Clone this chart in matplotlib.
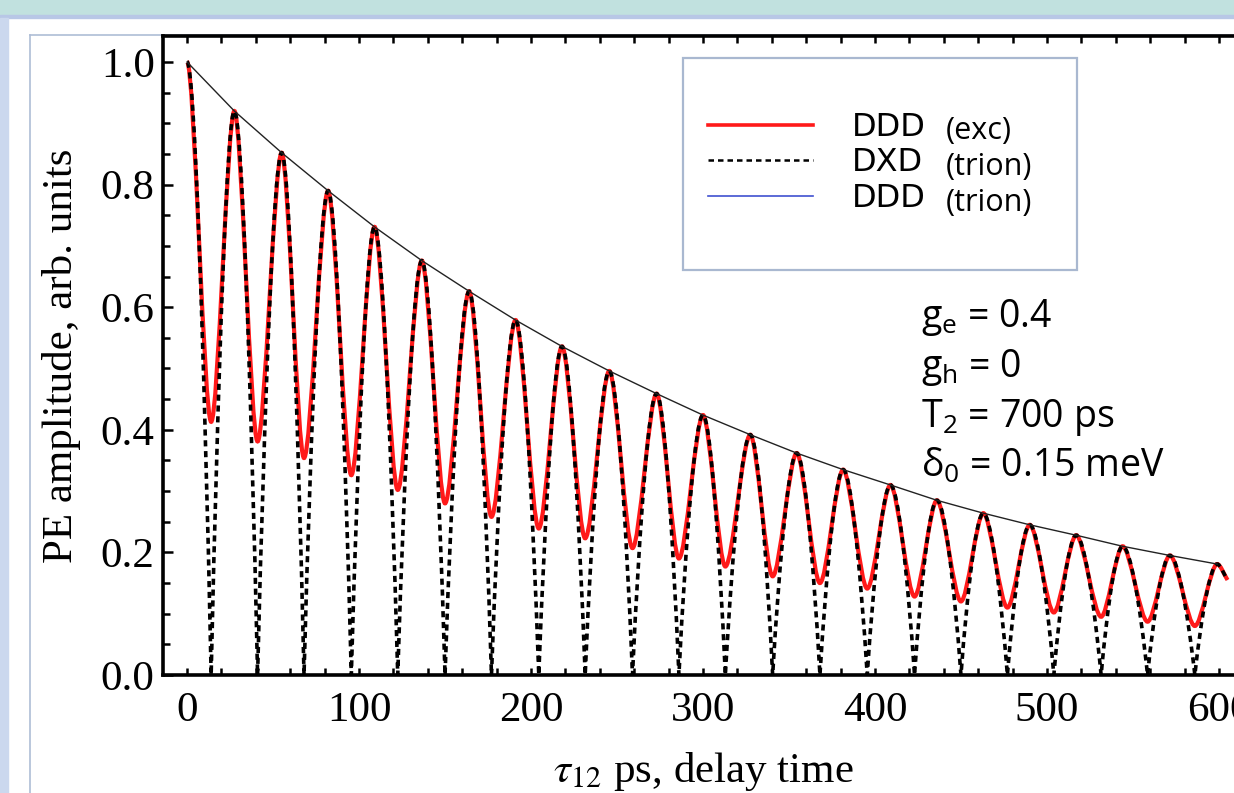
import matplotlib
matplotlib.use("Agg")
import matplotlib.pyplot as plt
from matplotlib.path import Path
from matplotlib.patches import PathPatch, Rectangle
from matplotlib.lines import Line2D
from matplotlib.font_manager import FontProperties
from matplotlib.ticker import MultipleLocator, FormatStrFormatter

plt.rcParams["mathtext.fontset"] = "custom"
plt.rcParams["mathtext.rm"] = "Open Sans"
plt.rcParams["mathtext.it"] = "Open Sans:italic"

# maxima of the photon echo signal (DDD and DXD share them)
peak_t = [0, 27.5, 55, 82, 109, 136.5, 164, 191, 218, 245.5, 273, 300,
          327.5, 354.5, 381.5, 409, 436, 463, 490, 517, 544, 571.5, 599]
peak_v = [1.0, 0.92, 0.852, 0.79, 0.731, 0.676, 0.626, 0.579, 0.536, 0.496,
          0.459, 0.424, 0.392, 0.362, 0.335, 0.31, 0.285, 0.264, 0.245,
          0.228, 0.21, 0.195, 0.181]
# minima of DDD (exc); DXD (trion) goes down to zero at the same delays
trough_t = [14, 41, 68, 95.5, 122.5, 150, 177, 204.5, 231.5, 259, 286, 313,
            340.5, 368, 395.5, 423, 450, 477, 504, 531.5, 558.5, 586]
trough_v = [0.413, 0.381, 0.354, 0.326, 0.302, 0.28, 0.258, 0.239, 0.223,
            0.207, 0.19, 0.177, 0.161, 0.15, 0.141, 0.128, 0.12, 0.11,
            0.102, 0.095, 0.087, 0.08]
dxd_zero_v = [0.0] * len(trough_t)
# last point of the curves at the right border
end_t = 605
end_v = 0.155

labels = ["DDD", "DXD", "DDD"]
label_kind = ["(exc)", "(trion)", "(trion)"]
params = [r"g$_\mathrm{e}$ = 0.4", r"g$_\mathrm{h}$ = 0",
          r"T$_\mathrm{2}$ = 700 ps", r"δ$_\mathrm{0}$ = 0.15 meV"]

W, H = 1234, 793


def fx(px):
    return px / W


def fy(py):
    return 1 - py / H


def osc_path(lo_t, lo_v, kink):
    # alternate maxima / minima and join them with bezier arcs
    ts, vs = [], []
    for i in range(len(peak_t)):
        ts.append(peak_t[i]); vs.append(peak_v[i])
        if i < len(lo_t):
            ts.append(lo_t[i]); vs.append(lo_v[i])
    ts.append(end_t); vs.append(end_v)
    verts = [(ts[0], vs[0])]
    codes = [Path.MOVETO]
    last = len(ts) - 2
    for i in range(len(ts) - 1):
        t0, v0, t1, v1 = ts[i], vs[i], ts[i + 1], vs[i + 1]
        d = t1 - t0
        if i == last:
            c1 = (t0 + 0.3 * d, v0)
            c2 = (t1 - 0.3 * d, v1 + 0.3 * (v0 - v1))
        elif kink and i % 2 == 0:
            c1 = (t0 + 0.3 * d, v0)
            c2 = (t1 - 0.3 * d, 0.55 * v0)
        elif kink:
            c1 = (t0 + 0.3 * d, 0.55 * v1)
            c2 = (t1 - 0.3 * d, v1)
        else:
            c1 = (t0 + 0.3 * d, v0)
            c2 = (t1 - 0.3 * d, v1)
        verts += [c1, c2, (t1, v1)]
        codes += [Path.CURVE4] * 3
    return Path(verts, codes)


fig = plt.figure(figsize=(W / 100, H / 100), dpi=100, facecolor="white")

# slide frame around the plot
fig.add_artist(Rectangle((0, fy(15)), 1, 15 / H, transform=fig.transFigure,
                         color="#c1e1df", zorder=0))
fig.add_artist(Rectangle((0, fy(18)), 1, 3 / H, transform=fig.transFigure,
                         color="#b8c7e6", zorder=0))
fig.add_artist(Rectangle((0, 0), 8 / W, fy(18), transform=fig.transFigure,
                         color="#cbd8ee", zorder=0))
fig.add_artist(Line2D([fx(30), fx(30)], [0, fy(35)], transform=fig.transFigure,
                      color="#aebdd6", lw=1.2, zorder=0))
fig.add_artist(Line2D([fx(30), 1], [fy(35), fy(35)], transform=fig.transFigure,
                      color="#aebdd6", lw=1.2, zorder=0))

ax = fig.add_axes([fx(163), fy(675), (1243 - 163) / W, (675 - 36) / H])

ax.add_patch(PathPatch(osc_path(trough_t, trough_v, False), fill=False,
                       edgecolor="#4050d0", lw=1.0, zorder=2))
ax.add_patch(PathPatch(osc_path(trough_t, trough_v, False), fill=False,
                       edgecolor="#ff1a1a", lw=3.0, zorder=3))
ax.add_patch(PathPatch(osc_path(trough_t, dxd_zero_v, True), fill=False,
                       edgecolor="black", lw=2.6, linestyle=(0, (1.7, 1.3)),
                       zorder=4))
ax.plot(peak_t, peak_v, color="#222222", lw=1.0, zorder=5)

ax.set_xlim(-14, 614)
ax.set_ylim(0, 1.0424)
ax.xaxis.set_major_locator(MultipleLocator(100))
ax.xaxis.set_minor_locator(MultipleLocator(20))
ax.yaxis.set_major_locator(MultipleLocator(0.2))
ax.yaxis.set_minor_locator(MultipleLocator(0.05))
ax.yaxis.set_major_formatter(FormatStrFormatter("%.1f"))
ax.tick_params(which="both", direction="in", top=True, right=False,
               width=1.8, labelsize=31)
ax.tick_params(axis="x", which="both", length=5, pad=12)
ax.tick_params(axis="y", which="major", length=7.5, pad=6)
ax.tick_params(axis="y", which="minor", length=5)
for lab in ax.get_xticklabels() + ax.get_yticklabels():
    lab.set_fontfamily("Liberation Serif")
for sp in ax.spines.values():
    sp.set_linewidth(2.6)

ax.set_ylabel("PE amplitude, arb. units", fontsize=31,
              fontfamily="Liberation Serif", labelpad=14)
ax.set_xlabel(r"$\tau_{12}$ ps, delay time", fontsize=31,
              fontfamily="Liberation Serif", math_fontfamily="stix",
              labelpad=14)

# legend box
fig.add_artist(Rectangle((fx(683), fy(270)), (1077 - 683) / W, (270 - 58) / H,
                         transform=fig.transFigure, facecolor="white",
                         edgecolor="#a9b8d0", lw=1.6, zorder=2))
handles = [Line2D([], [], color="#ff1a1a", lw=2.6),
           Line2D([], [], color="black", lw=1.8, linestyle=(0, (2.2, 1.6))),
           Line2D([], [], color="#4050d0", lw=1.2)]
leg = fig.legend(handles, labels, loc="center left",
                 bbox_to_anchor=(fx(708), fy(163)),
                 bbox_transform=fig.transFigure, frameon=False, borderpad=0,
                 borderaxespad=0, handlelength=3.3, handletextpad=1.2,
                 labelspacing=0.15,
                 prop=FontProperties(family="DejaVu Sans", size=23))
leg.set_zorder(5)

# the (exc)/(trion) notes are in another font, put them after each entry
fig.canvas.draw()
for t, kind in zip(leg.get_texts(), label_kind):
    bb = t.get_window_extent()
    fig.text(fx(946), (bb.y0 + bb.y1) / 2 / H - 4 / H, kind, fontsize=22,
             fontfamily="Open Sans", va="center", ha="left", zorder=6)

for i, s in enumerate(params):
    fig.text(fx(921), fy(327 + 50 * i), s, fontsize=27, fontfamily="Open Sans",
             va="baseline", ha="left", color="black")

fig.savefig("out.png", dpi=100, facecolor=fig.get_facecolor())
